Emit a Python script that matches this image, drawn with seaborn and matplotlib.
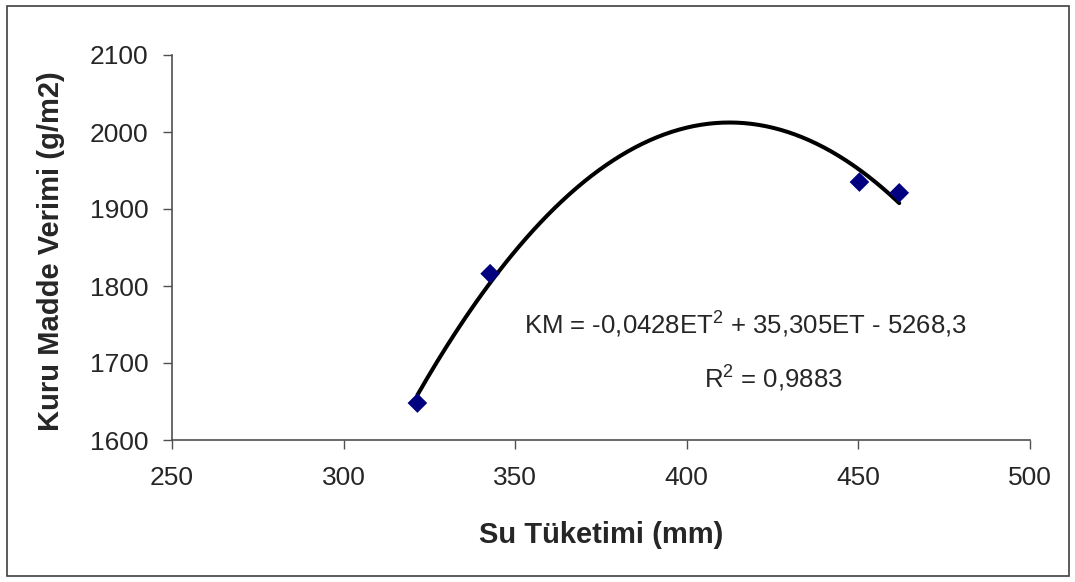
import numpy as np
import pandas as pd
import matplotlib
matplotlib.use("Agg")
import matplotlib.pyplot as plt
import seaborn as sns
from matplotlib.patches import Rectangle

# Data
su_tuketimi = [321.5, 342.7, 450.3, 461.9]
kuru_madde = [1648, 1816, 1935, 1921]
trend_coefs = [-0.0428, 35.305, -5268.3]
x_ticks = [250, 300, 350, 400, 450, 500]
y_ticks = [1600, 1700, 1800, 1900, 2000, 2100]
equation_text = "KM = -0,0428ET$^2$ + 35,305ET - 5268,3"
r2_text = "R$^2$ = 0,9883"

sns.set_theme(style="white")
plt.rcParams['font.family'] = ['Liberation Sans', 'DejaVu Sans']
plt.rcParams['mathtext.fontset'] = 'custom'
plt.rcParams['mathtext.rm'] = 'Liberation Sans'

fig = plt.figure(figsize=(10.75, 5.82), dpi=100)
W, H = 1075, 582
ax = fig.add_axes([172 / W, 1 - 440 / H, (1030 - 172) / W, (440 - 55) / H])

# outer chart border
fig.patches.append(Rectangle((6.5 / W, 6 / H), (1068.5 - 6.5) / W, (576 - 6) / H,
                             transform=fig.transFigure, fill=False,
                             edgecolor='#404040', linewidth=1.2))

# trendline
xs = np.linspace(min(su_tuketimi), max(su_tuketimi), 200)
trend_df = pd.DataFrame({"x": xs, "y": np.polyval(trend_coefs, xs)})
sns.lineplot(data=trend_df, x="x", y="y", ax=ax, color='black', linewidth=2.9)

df = pd.DataFrame({"x": su_tuketimi, "y": kuru_madde})
sns.scatterplot(data=df, x="x", y="y", ax=ax, marker='D', color='#000080',
                s=100, edgecolor='none', zorder=5)

ax.set_xlim(250, 500)
ax.set_ylim(1600, 2100)
ax.set_xticks(x_ticks)
ax.set_yticks(y_ticks)
ax.tick_params(axis='both', direction='out', length=6.5, width=1, color='#505050',
               labelsize=19, left=True, bottom=True)
ax.tick_params(axis='x', pad=12)
ax.tick_params(axis='y', pad=10.5)
for side in ['top', 'right']:
    ax.spines[side].set_visible(False)
for side in ['left', 'bottom']:
    ax.spines[side].set_color('#505050')
    ax.spines[side].set_linewidth(1.2)

ax.set_xlabel("")
ax.set_ylabel("")
fig.text(601.5 / W, 1 - 543 / H, "Su Tüketimi (mm)", fontsize=21, fontweight='bold',
         ha='center', va='baseline')
fig.text(51 / W, 1 - 251 / H, "Kuru Madde Verimi (g/m2)", fontsize=21,
         fontweight='bold', rotation=90, ha='center', va='center')

ax.text(417.2, 1739, equation_text, fontsize=18.5, ha='center', va='baseline')
ax.text(425.1, 1668.8, r2_text, fontsize=18.5, ha='center', va='baseline')

fig.savefig("out.png", dpi=100)
